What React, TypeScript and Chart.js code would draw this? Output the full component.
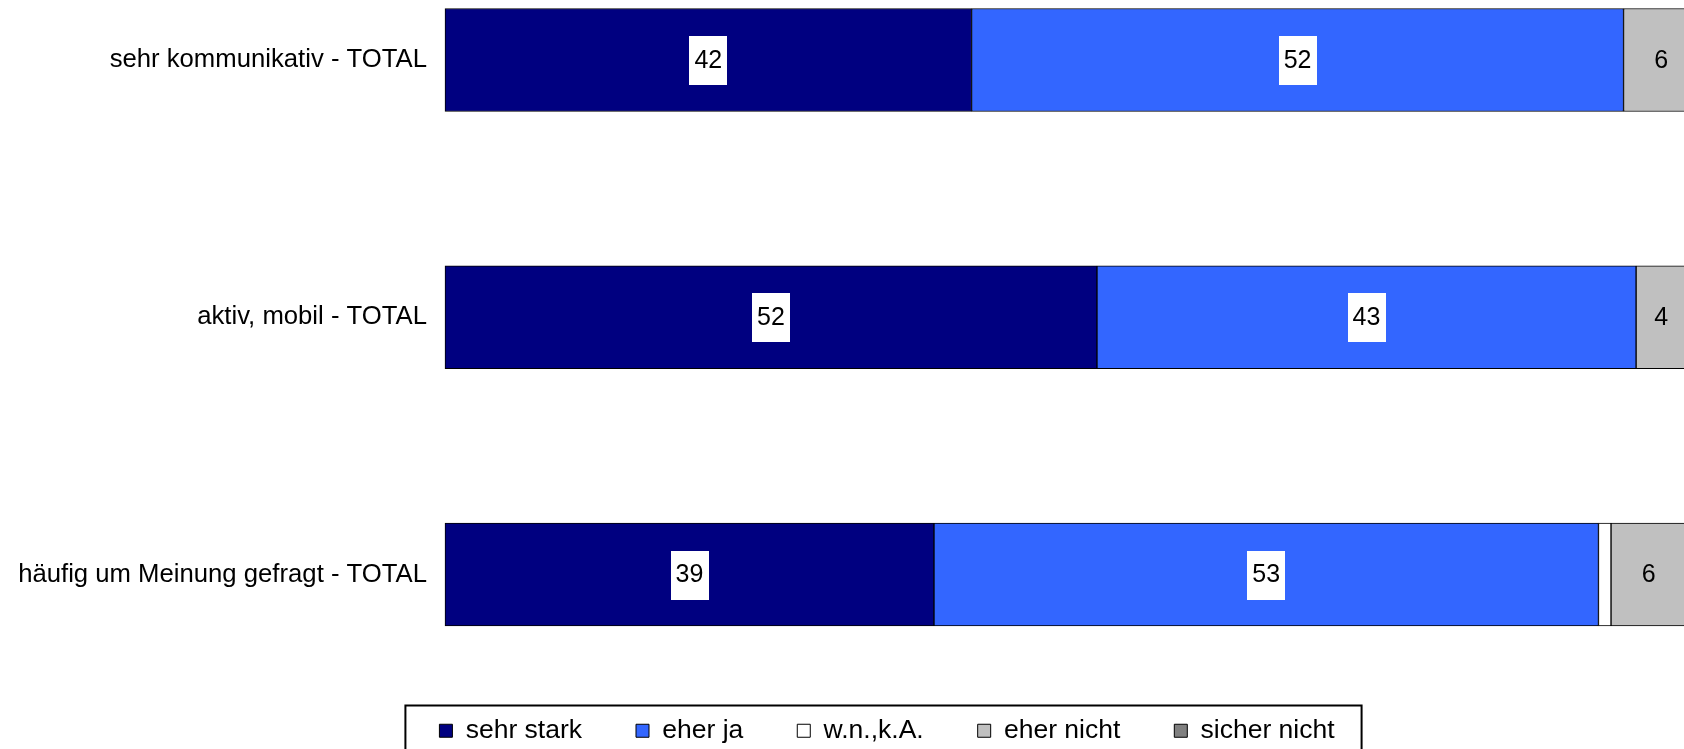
import React, { useEffect, useRef } from "react";
import { Chart, registerables } from "chart.js";

Chart.register(...registerables);

const categories = [
  "sehr kommunikativ - TOTAL",
  "aktiv, mobil - TOTAL",
  "häufig um Meinung gefragt - TOTAL",
];

const seriesNames = ["sehr stark", "eher ja", "w.n.,k.A.", "eher nicht", "sicher nicht"];
const sehrStark = [42, 52, 39];
const eherJa = [52, 43, 53];
const wnka = [0, 0, 1];
const eherNicht = [6, 4, 6];
const sicherNicht = [0, 1, 1];

const seriesColors = ["#000080", "#3366FF", "#FFFFFF", "#C0C0C0", "#808080"];
const labelBackground = ["#FFFFFF", "#FFFFFF", null, null, null];

const FONT = '"Liberation Sans", Arial, Helvetica, sans-serif';

const valueLabels = {
  id: "valueLabels",
  afterDatasetsDraw(chart: any) {
    const ctx = chart.ctx;
    ctx.save();
    ctx.font = `25px ${FONT}`;
    ctx.textAlign = "center";
    ctx.textBaseline = "middle";
    chart.data.datasets.forEach((ds: any, di: number) => {
      const meta = chart.getDatasetMeta(di);
      meta.data.forEach((el: any, i: number) => {
        const v = ds.data[i];
        if (!v) return;
        const { x, y, base } = el.getProps(["x", "y", "base"], true);
        const w = Math.abs(x - base);
        const text = String(v);
        const tw = ctx.measureText(text).width;
        if (w < tw + 10) return;
        const cx = (x + base) / 2;
        const bg = labelBackground[di];
        if (bg) {
          ctx.fillStyle = bg;
          ctx.fillRect(Math.round(cx - tw / 2 - 5), Math.round(y - 24), Math.round(tw + 10), 49);
        }
        ctx.fillStyle = "#000";
        ctx.fillText(text, cx, y + 1);
      });
    });
    ctx.restore();
  },
};

const legendFrame = {
  id: "legendFrame",
  afterDraw(chart: any) {
    const lg = chart.legend;
    if (!lg || !lg.legendHitBoxes || !lg.legendHitBoxes.length) return;
    const hb = lg.legendHitBoxes;
    const first = hb[0];
    const last = hb[hb.length - 1];
    const left = first.left - 34;
    const right = last.left + last.width + 27;
    const top = first.top - 12;
    const bottom = first.top + first.height + 12;
    const ctx = chart.ctx;
    ctx.save();
    ctx.lineWidth = 2;
    ctx.strokeStyle = "#000";
    ctx.strokeRect(left, top, right - left, bottom - top);
    ctx.restore();
  },
};

export default function App() {
  const ref = useRef<HTMLCanvasElement | null>(null);

  useEffect(() => {
    if (!ref.current) return;
    const values = [sehrStark, eherJa, wnka, eherNicht, sicherNicht];
    const chart = new Chart(ref.current, {
      type: "bar",
      data: {
        labels: categories,
        datasets: seriesNames.map((name, k) => ({
          label: name,
          data: values[k],
          backgroundColor: seriesColors[k],
          borderColor: "#000000",
          borderWidth: 1,
          borderSkipped: false,
          barThickness: 103,
          clip: false as any,
        })),
      },
      options: {
        indexAxis: "y",
        responsive: false,
        animation: false,
        devicePixelRatio: 1,
        layout: { padding: { top: 60, left: 0, right: 0, bottom: 0 } },
        scales: {
          x: {
            stacked: true,
            min: 0,
            max: 106,
            display: true,
            ticks: { display: false },
            grid: { display: false, drawTicks: false },
            border: { display: false },
            afterFit: (s: any) => {
              s.height = 89;
            },
          },
          y: {
            stacked: true,
            offset: false,
            ticks: {
              color: "#000",
              padding: 18,
              font: { family: FONT, size: 25.7 },
            },
            grid: { display: false, drawTicks: false },
            border: { display: false },
            afterFit: (s: any) => {
              s.width = 445;
            },
          },
        },
        plugins: {
          legend: {
            position: "bottom",
            labels: {
              color: "#000",
              boxWidth: 13,
              boxHeight: 13,
              padding: 54,
              font: { family: FONT, size: 26.5 },
            },
          },
          tooltip: { enabled: false },
          title: { display: false },
        },
      },
      plugins: [valueLabels, legendFrame],
    });
    return () => chart.destroy();
  }, []);

  return (
    <div
      style={{
        position: "fixed",
        left: 0,
        top: 0,
        width: 1684,
        height: 749,
        overflow: "hidden",
        background: "#fff",
      }}
    >
      <canvas
        ref={ref}
        width={1774}
        height={754}
        style={{ position: "absolute", left: 0, top: 0, width: 1774, height: 754 }}
      />
    </div>
  );
}
